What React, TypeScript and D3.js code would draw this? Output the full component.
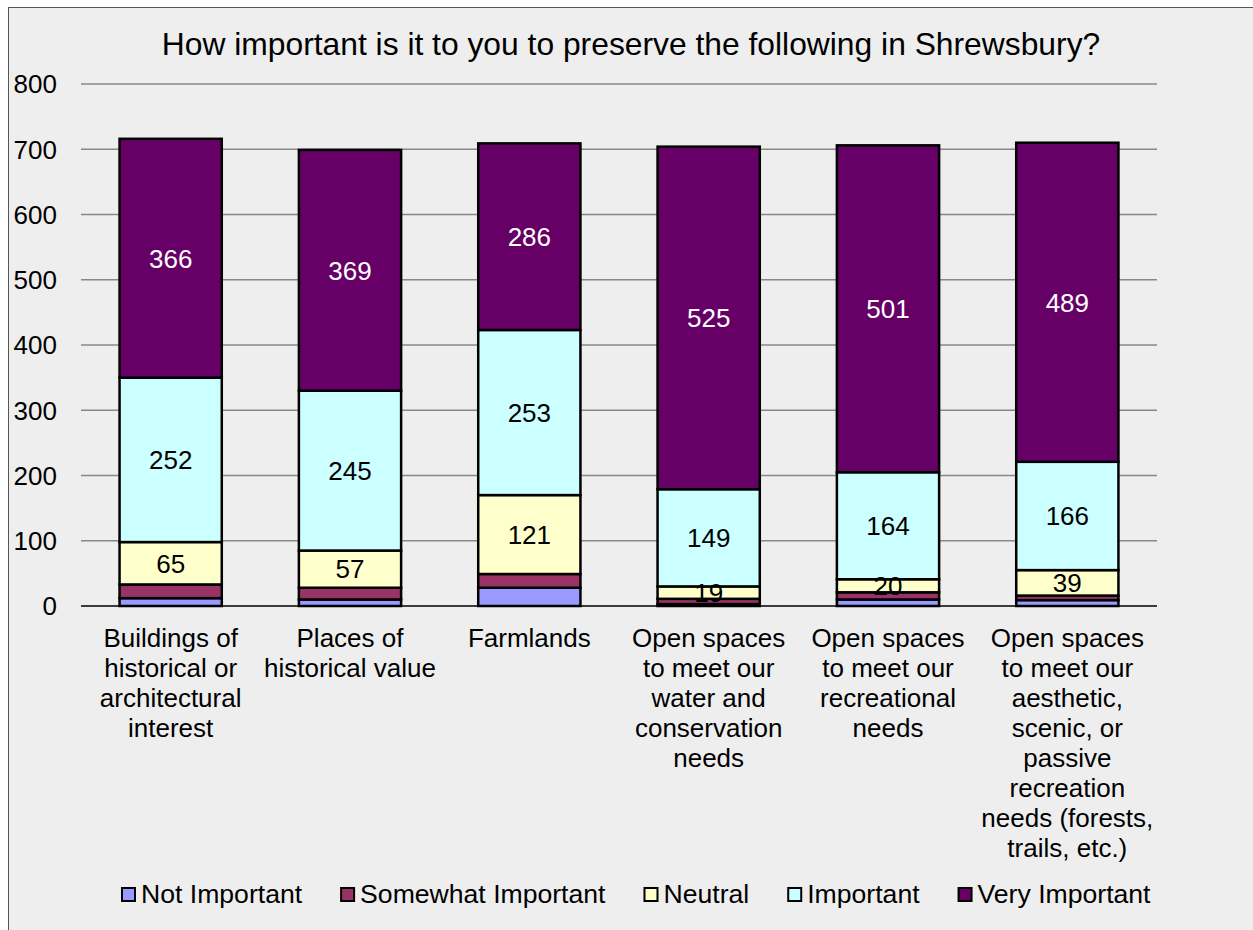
import { useEffect, useRef } from "react";
import * as d3 from "d3";

const categories = [
  "Buildings of historical or architectural interest",
  "Places of historical value",
  "Farmlands",
  "Open spaces to meet our water and conservation needs",
  "Open spaces to meet our recreational needs",
  "Open spaces to meet our aesthetic, scenic, or passive recreation needs (forests, trails, etc.)",
];

const categoryLines = [
  ["Buildings of", "historical or", "architectural", "interest"],
  ["Places of", "historical value"],
  ["Farmlands"],
  ["Open spaces", "to meet our", "water and", "conservation", "needs"],
  ["Open spaces", "to meet our", "recreational", "needs"],
  ["Open spaces", "to meet our", "aesthetic,", "scenic, or", "passive", "recreation", "needs (forests,", "trails, etc.)"],
];

const seriesNames = ["Not Important", "Somewhat Important", "Neutral", "Important", "Very Important"];

const notImportant = [12, 10, 28, 3, 10, 9];
const somewhatImportant = [21, 18, 21, 8, 11, 7];
const neutral = [65, 57, 121, 19, 20, 39];
const important = [252, 245, 253, 149, 164, 166];
const veryImportant = [366, 369, 286, 525, 501, 489];

const seriesColors = ["#9999FF", "#993366", "#FFFFCC", "#CCFFFF", "#660066"];
const labelColors = [null, null, "#000000", "#000000", "#FFFFFF"];

const yTicks = [0, 100, 200, 300, 400, 500, 600, 700, 800];

const FONT = "'Liberation Sans', Arial, sans-serif";

const App = () => {
  const svgRef = useRef<SVGSVGElement | null>(null);

  useEffect(() => {
    if (!svgRef.current) return;
    const svg = d3.select(svgRef.current);
    svg.selectAll("*").remove();

    const values = [notImportant, somewhatImportant, neutral, important, veryImportant];
    const rows = categories.map((c, i) => {
      const r: any = { category: c };
      seriesNames.forEach((s, j) => (r[s] = values[j][i]));
      return r;
    });
    const stacked = d3.stack<any>().keys(seriesNames)(rows);

    const plot = { left: 81, right: 1157, top: 84, bottom: 606 };

    // chart frame
    svg
      .append("rect")
      .attr("x", 8.5)
      .attr("y", 7.5)
      .attr("width", 1300)
      .attr("height", 1000)
      .attr("fill", "#eeeeee")
      .attr("stroke", "#555555")
      .attr("stroke-width", 1);

    const x = d3
      .scaleBand()
      .domain(categories)
      .range([plot.left, plot.right])
      .paddingInner(0.43)
      .paddingOuter(0.215);

    const y = d3.scaleLinear().domain([0, 800]).range([plot.bottom, plot.top]);

    // gridlines
    svg
      .append("g")
      .selectAll("line")
      .data(yTicks.filter((t) => t > 0))
      .enter()
      .append("line")
      .attr("x1", plot.left)
      .attr("x2", plot.right)
      .attr("y1", (d) => y(d))
      .attr("y2", (d) => y(d))
      .attr("stroke", "#888888")
      .attr("stroke-width", 1.5);

    // y tick labels
    svg
      .append("g")
      .selectAll("text")
      .data(yTicks)
      .enter()
      .append("text")
      .attr("x", 57)
      .attr("y", (d) => y(d))
      .attr("dy", "0.36em")
      .attr("text-anchor", "end")
      .attr("font-family", FONT)
      .attr("font-size", 26)
      .attr("fill", "#000")
      .text((d) => d);

    // bars
    const layers = svg
      .append("g")
      .selectAll("g")
      .data(stacked)
      .enter()
      .append("g")
      .attr("fill", (_d, i) => seriesColors[i]);

    layers
      .selectAll("rect")
      .data((d) => d)
      .enter()
      .append("rect")
      .attr("x", (d) => x(d.data.category) ?? 0)
      .attr("y", (d) => y(d[1]))
      .attr("width", x.bandwidth())
      .attr("height", (d) => y(d[0]) - y(d[1]))
      .attr("stroke", "#000")
      .attr("stroke-width", 2.5);

    // x axis line
    svg
      .append("line")
      .attr("x1", plot.left)
      .attr("x2", plot.right)
      .attr("y1", plot.bottom)
      .attr("y2", plot.bottom)
      .attr("stroke", "#000")
      .attr("stroke-width", 1.5);

    // data labels
    stacked.forEach((layer, i) => {
      if (!labelColors[i]) return;
      svg
        .append("g")
        .selectAll("text")
        .data(layer)
        .enter()
        .append("text")
        .attr("x", (d) => (x(d.data.category) ?? 0) + x.bandwidth() / 2)
        .attr("y", (d) => y((d[0] + d[1]) / 2))
        .attr("dy", "0.36em")
        .attr("text-anchor", "middle")
        .attr("font-family", FONT)
        .attr("font-size", 26)
        .attr("fill", labelColors[i] as string)
        .text((d) => d[1] - d[0]);
    });

    // category labels
    const cat = svg
      .append("g")
      .selectAll("text")
      .data(categories)
      .enter()
      .append("text")
      .attr("text-anchor", "middle")
      .attr("font-family", FONT)
      .attr("font-size", 26)
      .attr("fill", "#000");
    cat.each(function (d, i) {
      const t = d3.select(this);
      categoryLines[i].forEach((line, k) => {
        t.append("tspan")
          .attr("x", (x(d) ?? 0) + x.bandwidth() / 2)
          .attr("y", 647 + k * 30)
          .text(line);
      });
    });

    // title
    svg
      .append("text")
      .attr("x", 631)
      .attr("y", 55)
      .attr("text-anchor", "middle")
      .attr("font-family", FONT)
      .attr("font-size", 31.8)
      .attr("fill", "#000")
      .text("How important is it to you to preserve the following in Shrewsbury?");

    // legend
    const legend = svg.append("g");
    let lx = 121;
    seriesNames.forEach((name, i) => {
      legend
        .append("rect")
        .attr("x", lx + 1)
        .attr("y", 888)
        .attr("width", 13)
        .attr("height", 13)
        .attr("fill", seriesColors[i])
        .attr("stroke", "#000")
        .attr("stroke-width", 2);
      const txt = legend
        .append("text")
        .attr("x", lx + 20)
        .attr("y", 903)
        .attr("font-family", FONT)
        .attr("font-size", 26.6)
        .attr("fill", "#000")
        .text(name);
      const w = (txt.node() as SVGTextElement).getComputedTextLength();
      lx = lx + 20 + w + 38;
    });
  }, []);

  return (
    <div style={{ position: "fixed", left: 0, top: 0 }}>
      <svg ref={svgRef} width={1253} height={930} style={{ display: "block" }}></svg>
    </div>
  );
};

export default App;
